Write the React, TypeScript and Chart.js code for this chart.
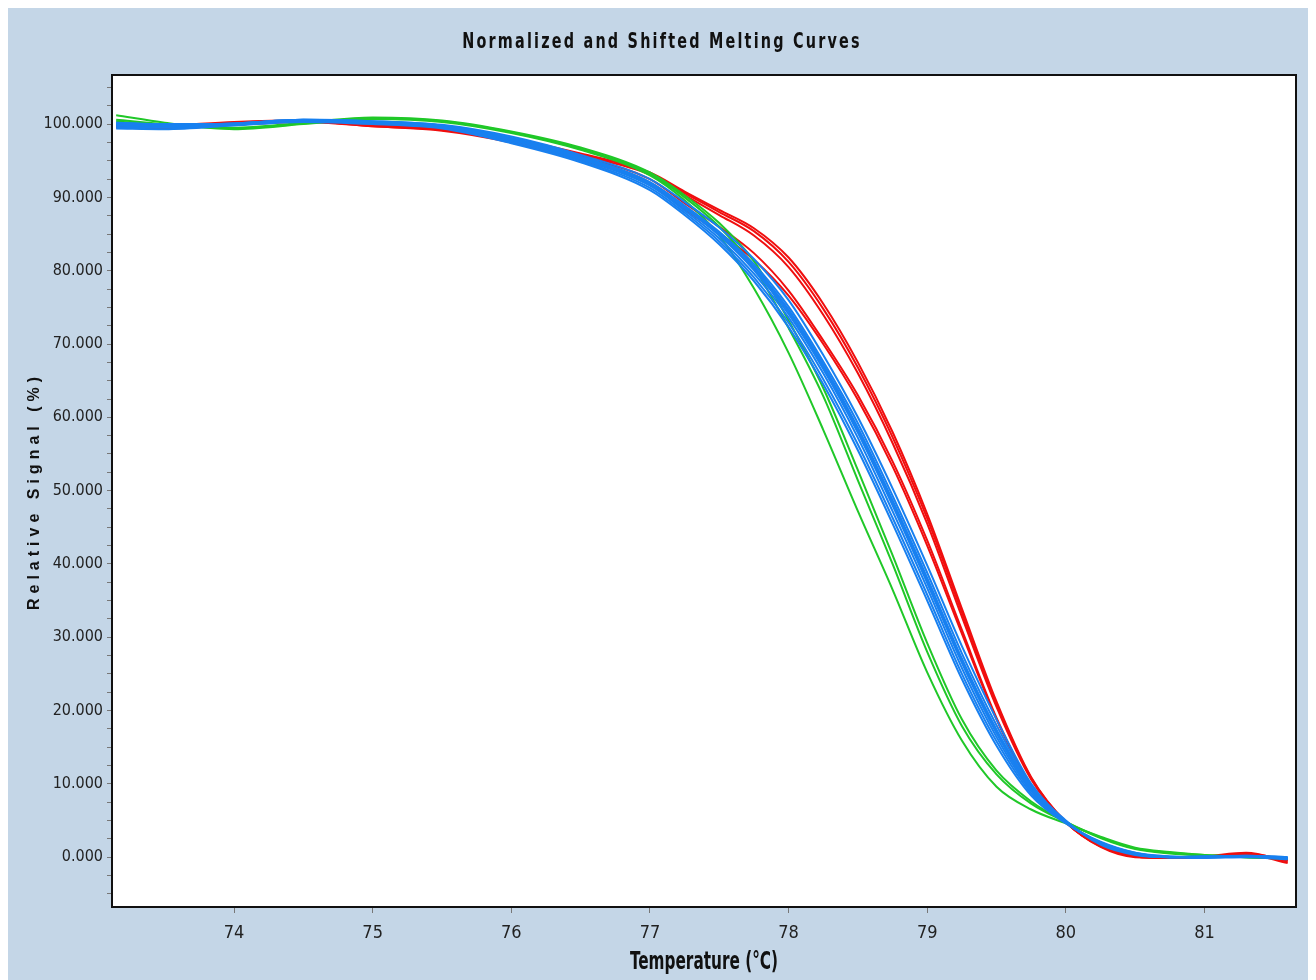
import React, { useEffect, useRef } from "react";
import { Chart, registerables } from "chart.js";

Chart.register(...registerables);

// ---------- data ----------
const TITLE = "Normalized and Shifted Melting Curves";
const X_TITLE = "Temperature (°C)";
const Y_TITLE = "Relative Signal (%)";

const TEMPS = [73.15, 73.5, 74, 74.5, 75, 75.5, 76, 76.5, 77, 77.25, 77.5, 77.75, 78, 78.25, 78.5, 78.75, 79, 79.25, 79.5, 79.75, 80, 80.25, 80.5, 80.75, 81, 81.3, 81.6];

const X_MIN = 73.12;
const X_MAX = 81.66;
const Y_MIN = -6.8;
const Y_MAX = 106.7;

const BLUE_1 = [99.4, 99.3, 99.8, 100.3, 100.0, 99.4, 97.4, 94.8, 91.0, 87.6, 83.6, 78.6, 72.3, 64.5, 55.5, 45.5, 35.0, 24.3, 15.2, 8.4, 4.6, 2.1, 0.6, 0.0, -0.1, 0.0, -0.3];
const BLUE_2 = [99.6, 99.5, 99.9, 100.4, 100.1, 99.5, 97.6, 95.0, 91.3, 87.9, 84.0, 79.1, 72.9, 65.2, 56.3, 46.3, 35.8, 25.0, 15.8, 8.7, 4.7, 2.0, 0.5, 0.1, 0.0, 0.1, -0.2];
const BLUE_3 = [99.8, 99.6, 100.0, 100.5, 100.2, 99.6, 97.8, 95.2, 91.6, 88.2, 84.4, 79.6, 73.6, 66.0, 57.2, 47.2, 36.7, 25.8, 16.4, 9.0, 4.7, 2.0, 0.6, 0.1, 0.0, 0.1, -0.1];
const BLUE_4 = [100.0, 99.8, 100.0, 100.5, 100.3, 99.7, 97.9, 95.4, 91.8, 88.5, 84.8, 80.1, 74.1, 66.6, 57.9, 48.0, 37.4, 26.5, 16.9, 9.2, 4.8, 1.9, 0.5, 0.0, 0.0, 0.2, 0.0];
const BLUE_5 = [100.1, 99.9, 100.1, 100.6, 100.3, 99.8, 98.0, 95.5, 92.0, 88.7, 85.1, 80.6, 74.7, 67.2, 58.6, 48.7, 38.1, 27.1, 17.4, 9.5, 4.8, 1.9, 0.4, 0.0, 0.1, 0.2, 0.0];
const BLUE_6 = [100.2, 99.9, 100.1, 100.6, 100.4, 99.8, 98.1, 95.6, 92.1, 88.9, 85.3, 80.9, 75.1, 67.6, 59.2, 49.3, 38.8, 27.8, 18.0, 9.7, 4.9, 1.8, 0.4, 0.0, 0.1, 0.1, -0.1];
const BLUE_7 = [99.9, 99.7, 100.0, 100.5, 100.2, 99.7, 98.0, 95.4, 91.9, 88.6, 84.9, 80.3, 74.4, 66.9, 58.2, 48.3, 37.8, 26.8, 17.2, 9.4, 4.8, 2.0, 0.5, 0.0, 0.0, 0.1, -0.1];
const BLUE_8 = [100.2, 100.0, 100.1, 100.6, 100.4, 99.9, 98.3, 95.8, 92.5, 89.4, 85.9, 81.6, 76.0, 68.5, 60.0, 50.3, 39.8, 28.8, 18.8, 10.0, 5.0, 1.7, 0.3, 0.0, 0.1, 0.1, -0.2];

const RED_1 = [99.7, 99.8, 100.3, 100.5, 99.8, 99.3, 97.9, 95.9, 93.3, 90.6, 88.0, 85.4, 81.2, 74.8, 66.8, 57.3, 46.2, 33.4, 20.9, 10.8, 4.8, 1.5, 0.1, -0.1, 0.0, 0.5, -0.4];
const RED_2 = [99.9, 99.7, 100.2, 100.5, 99.9, 99.4, 98.0, 96.0, 93.4, 90.8, 88.3, 85.8, 81.8, 75.5, 67.5, 58.0, 46.8, 33.9, 21.2, 10.9, 4.8, 1.4, 0.0, -0.1, 0.1, 0.6, -0.6];
const RED_3 = [99.8, 99.6, 100.1, 100.4, 99.7, 99.2, 97.8, 95.7, 93.1, 90.3, 87.6, 84.8, 80.5, 74.0, 66.0, 56.5, 45.5, 32.8, 20.5, 10.6, 4.8, 1.5, 0.1, 0.0, 0.0, 0.4, -0.8];
const RED_4 = [99.6, 99.5, 100.0, 100.4, 99.8, 99.2, 97.7, 95.5, 92.5, 89.2, 86.0, 82.4, 77.3, 70.5, 63.0, 54.0, 43.2, 31.0, 19.0, 9.8, 4.8, 1.6, 0.2, -0.1, 0.0, 0.3, -0.3];
const RED_5 = [99.5, 99.4, 99.9, 100.3, 99.7, 99.1, 97.5, 95.1, 91.8, 88.4, 85.1, 81.5, 76.6, 70.0, 62.4, 53.3, 42.5, 30.5, 18.8, 9.7, 4.7, 1.5, 0.1, -0.1, 0.0, 0.4, -0.5];

const GREEN_1 = [101.2, 100.2, 99.3, 100.0, 100.7, 100.3, 98.8, 96.5, 93.0, 89.6, 84.8, 77.6, 68.8, 58.3, 47.2, 36.5, 25.2, 15.9, 9.6, 6.5, 4.6, 2.8, 1.3, 0.7, 0.3, 0.0, -0.2];
const GREEN_2 = [100.6, 100.0, 99.4, 100.1, 100.8, 100.4, 98.9, 96.6, 93.2, 90.0, 86.0, 80.4, 72.2, 62.9, 51.4, 40.0, 28.0, 17.9, 11.3, 7.3, 4.8, 2.7, 1.2, 0.6, 0.3, 0.0, -0.1];
const GREEN_3 = [100.4, 99.8, 99.5, 100.2, 100.9, 100.5, 99.0, 96.8, 93.4, 90.3, 86.5, 81.3, 73.2, 64.0, 52.8, 41.2, 29.2, 18.8, 11.8, 7.6, 4.8, 2.6, 1.1, 0.5, 0.2, 0.0, -0.1];

const BLUE_SERIES = [BLUE_1, BLUE_2, BLUE_3, BLUE_4, BLUE_5, BLUE_6, BLUE_7, BLUE_8];
const RED_SERIES = [RED_1, RED_2, RED_3, RED_4, RED_5];
const GREEN_SERIES = [GREEN_1, GREEN_2, GREEN_3];

// ---------- styles ----------
const BLUE = "rgb(24,128,240)";
const RED = "rgb(240,14,14)";
const GREEN = "rgb(32,200,40)";
const PANEL_BG = "rgb(196,214,231)";
const NARROW = "'Liberation Sans Narrow', 'Arial Narrow', 'DejaVu Sans Condensed', sans-serif";
const SANS = "'Liberation Sans', Arial, sans-serif";

function toPoints(values: number[]) {
  return TEMPS.map((t, i) => ({ x: t, y: values[i] }));
}

function makeDataset(values: number[], color: string) {
  return {
    data: toPoints(values),
    borderColor: color,
    backgroundColor: color,
    borderWidth: 2,
    pointRadius: 0,
    fill: false,
    cubicInterpolationMode: "monotone" as const,
  };
}

function stretchedText(ctx: CanvasRenderingContext2D, text: string, x: number, y: number, font: string, spacing: string, sy: number) {
  ctx.save();
  ctx.translate(x, y);
  ctx.scale(1, sy);
  ctx.font = font;
  (ctx as any).letterSpacing = spacing;
  ctx.textAlign = "center";
  ctx.textBaseline = "middle";
  ctx.fillText(text, 0, 0);
  (ctx as any).letterSpacing = "0px";
  ctx.restore();
}

const framePlugin = {
  id: "frame",
  beforeDraw(chart: any) {
    const { ctx, chartArea } = chart;
    ctx.save();
    ctx.fillStyle = PANEL_BG;
    ctx.fillRect(0, 0, chart.width, chart.height);
    ctx.fillStyle = "#ffffff";
    ctx.fillRect(chartArea.left, chartArea.top, chartArea.right - chartArea.left, chartArea.bottom - chartArea.top);
    ctx.restore();
  },
  afterDraw(chart: any) {
    const { ctx, chartArea } = chart;
    ctx.save();
    ctx.strokeStyle = "#111111";
    ctx.lineWidth = 2;
    ctx.strokeRect(chartArea.left, chartArea.top, chartArea.right - chartArea.left, chartArea.bottom - chartArea.top);
    ctx.fillStyle = "#111111";

    // chart title
    stretchedText(ctx, TITLE, chart.width / 2, 35, `bold 16px ${NARROW}`, "2.2px", 1.3);
    // x-axis title
    stretchedText(ctx, X_TITLE, (chartArea.left + chartArea.right) / 2, 955, `bold 17px ${NARROW}`, "0px", 1.45);

    // y-axis title
    ctx.translate(27, (chartArea.top + chartArea.bottom) / 2);
    ctx.rotate(-Math.PI / 2);
    ctx.font = `bold 16px ${SANS}`;
    ctx.letterSpacing = "5px";
    ctx.textAlign = "center";
    ctx.textBaseline = "middle";
    ctx.fillText(Y_TITLE, 0, 0);
    ctx.letterSpacing = "0px";
    ctx.restore();
  },
};

export default function App() {
  const ref = useRef<HTMLCanvasElement>(null);

  useEffect(() => {
    document.documentElement.style.overflow = "hidden";
    document.body.style.overflow = "hidden";
    const canvas = ref.current;
    if (!canvas) return;

    const datasets = [
      ...BLUE_SERIES.map((s) => makeDataset(s, BLUE)),
      ...GREEN_SERIES.map((s) => makeDataset(s, GREEN)),
      ...RED_SERIES.map((s) => makeDataset(s, RED)),
    ];

    const chart = new Chart(canvas, {
      type: "line",
      data: { datasets },
      plugins: [framePlugin],
      options: {
        animation: false,
        responsive: true,
        maintainAspectRatio: false,
        layout: { padding: { top: 67, right: 20, bottom: 0, left: 0 } },
        plugins: {
          legend: { display: false },
          tooltip: { enabled: false },
          title: { display: false },
        },
        scales: {
          x: {
            type: "linear",
            min: X_MIN,
            max: X_MAX,
            afterFit: (scale: any) => {
              scale.height = 73;
            },
            border: { display: false },
            grid: { drawOnChartArea: false, drawTicks: true, tickLength: 6, tickColor: "#777777", tickWidth: 1 },
            ticks: {
              stepSize: 1,
              includeBounds: false,
              autoSkip: false,
              maxRotation: 0,
              padding: 10,
              color: "#222222",
              font: { family: NARROW, size: 18 },
              callback: (v: any) => String(Math.round(Number(v))),
            },
            title: { display: false },
          },
          y: {
            type: "linear",
            min: Y_MIN,
            max: Y_MAX,
            afterFit: (scale: any) => {
              scale.width = 104;
            },
            border: { display: false },
            grid: { drawOnChartArea: false, drawTicks: true, tickLength: 5, tickColor: "#777777", tickWidth: 1 },
            ticks: {
              stepSize: 2.5,
              includeBounds: false,
              autoSkip: false,
              padding: 4,
              color: "#222222",
              font: { family: NARROW, size: 16 },
              callback: (v: any) => {
                const n = Number(v);
                return Math.abs(n % 10) < 1e-6 ? n.toFixed(3) : "";
              },
            },
          },
        },
      },
    });

    return () => chart.destroy();
  }, []);

  return (
    <div style={{ position: "relative", width: 1308, height: 972 }}>
      <canvas ref={ref} />
    </div>
  );
}
